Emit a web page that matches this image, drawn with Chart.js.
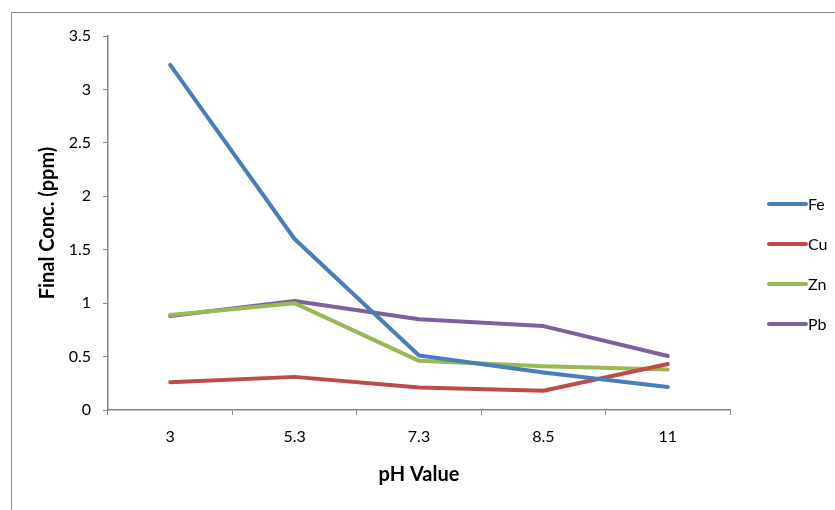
<!DOCTYPE html>
<html>
<head>
<meta charset="utf-8">
<script src="https://cdn.jsdelivr.net/npm/chart.js@4.4.1/dist/chart.umd.min.js"></script>
<style>
  html, body { margin: 0; padding: 0; background: #fff; }
  #wrap { width: 835px; height: 510px; position: relative; }
</style>
</head>
<body>
<div id="wrap"><canvas id="c" width="835" height="510"></canvas></div>
<script>
// pH values on the category axis
const phValues = ['3', '5.3', '7.3', '8.5', '11'];

// Final concentration (ppm) of each metal
const fe = [3.23, 1.60, 0.51, 0.35, 0.215];
const cu = [0.26, 0.31, 0.21, 0.18, 0.43];
const zn = [0.89, 1.00, 0.46, 0.41, 0.38];
const pb = [0.88, 1.02, 0.85, 0.785, 0.505];

const seriesNames = ['Fe', 'Cu', 'Zn', 'Pb'];
const seriesColors = ['#4A7EBB', '#BE4B48', '#98B954', '#7D60A0'];
const seriesValues = [fe, cu, zn, pb];

const yTicks = [0, 0.5, 1, 1.5, 2, 2.5, 3, 3.5];

const FONT = 'Lato, "Open Sans", sans-serif';
const AXIS_GRAY = '#868686';

// Outer frame of the chart object
const framePlugin = {
  id: 'frame',
  beforeDraw(chart) {
    const ctx = chart.ctx;
    ctx.save();
    ctx.strokeStyle = AXIS_GRAY;
    ctx.lineWidth = 1;
    ctx.beginPath();
    ctx.moveTo(11.5, 600);
    ctx.lineTo(11.5, 12.5);
    ctx.lineTo(900, 12.5);
    ctx.stroke();
    ctx.restore();
  }
};

// Legend on the right: a short line sample followed by the series name
const sideLegend = {
  id: 'sideLegend',
  afterDraw(chart) {
    const ctx = chart.ctx;
    ctx.save();
    ctx.font = '16px ' + FONT;
    ctx.textBaseline = 'middle';
    ctx.textAlign = 'left';
    chart.data.datasets.forEach((ds, i) => {
      const y = 204 + i * 40;
      ctx.strokeStyle = ds.borderColor;
      ctx.lineWidth = 4;
      ctx.lineCap = 'round';
      ctx.beginPath();
      ctx.moveTo(769, y);
      ctx.lineTo(806, y);
      ctx.stroke();
      ctx.fillStyle = '#000';
      ctx.fillText(ds.label, 808, y + 1);
    });
    ctx.restore();
  }
};

const datasets = seriesNames.map((name, i) => ({
  label: name,
  data: seriesValues[i],
  borderColor: seriesColors[i],
  backgroundColor: seriesColors[i],
  borderWidth: 4,
  pointRadius: 0,
  pointHoverRadius: 0,
  tension: 0,
  fill: false,
  borderCapStyle: 'round',
  borderJoinStyle: 'round'
}));

new Chart(document.getElementById('c'), {
  type: 'line',
  data: { labels: phValues, datasets },
  options: {
    responsive: false,
    animation: false,
    devicePixelRatio: 1,
    layout: { padding: { left: 0, top: 36, right: 105, bottom: 0 } },
    plugins: {
      legend: { display: false },
      tooltip: { enabled: false }
    },
    scales: {
      x: {
        type: 'category',
        offset: true,
        grid: {
          offset: true,
          drawOnChartArea: false,
          drawTicks: true,
          tickLength: 5,
          color: AXIS_GRAY,
          lineWidth: 1
        },
        border: { color: AXIS_GRAY, width: 1.5 },
        ticks: {
          color: '#000',
          font: { family: FONT, size: 16 },
          padding: 12,
          maxRotation: 0
        },
        title: {
          display: true,
          text: 'pH Value',
          color: '#000',
          font: { family: FONT, size: 20, weight: 'bold' },
          padding: { top: 0, bottom: 23 }
        },
        afterFit(scale) { scale.height = 100; }
      },
      y: {
        min: 0,
        max: 3.5,
        afterBuildTicks(scale) {
          scale.ticks = yTicks.map(v => ({ value: v }));
        },
        grid: {
          drawOnChartArea: false,
          drawTicks: true,
          tickLength: 5,
          color: AXIS_GRAY,
          lineWidth: 1
        },
        border: { color: AXIS_GRAY, width: 1.5 },
        ticks: {
          color: '#000',
          font: { family: FONT, size: 16 },
          padding: 12,
          callback: v => String(v)
        },
        title: {
          display: true,
          text: 'Final Conc. (ppm)',
          color: '#000',
          font: { family: FONT, size: 20, weight: 'bold' },
          padding: { top: 36, bottom: 0 }
        },
        afterFit(scale) { scale.width = 108; }
      }
    }
  },
  plugins: [framePlugin, sideLegend]
});
</script>
</body>
</html>
